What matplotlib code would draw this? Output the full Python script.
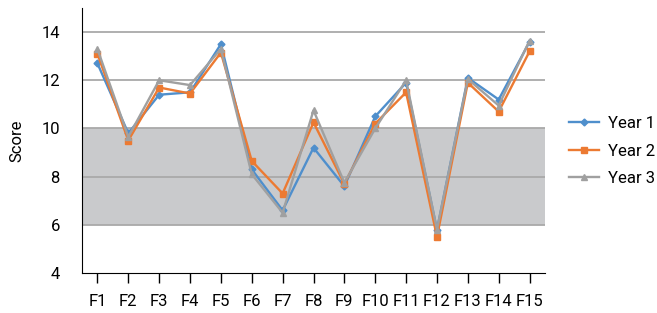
import numpy as np
import matplotlib as mpl
mpl.use('Agg')
import matplotlib.pyplot as plt

# data
features = ['F1', 'F2', 'F3', 'F4', 'F5', 'F6', 'F7', 'F8', 'F9', 'F10',
            'F11', 'F12', 'F13', 'F14', 'F15']
year1 = [12.7, 9.8, 11.4, 11.5, 13.5, 8.3, 6.6, 9.2, 7.6, 10.5,
         11.9, 5.8, 12.1, 11.2, 13.6]
year2 = [13.1, 9.5, 11.7, 11.45, 13.15, 8.65, 7.3, 10.25, 7.7, 10.2,
         11.5, 5.5, 11.9, 10.7, 13.2]
year3 = [13.3, 9.65, 12.0, 11.8, 13.3, 8.1, 6.5, 10.75, 7.75, 10.0,
         12.0, 5.8, 12.05, 10.95, 13.65]
band = (6, 10)
yticks = [4, 6, 8, 10, 12, 14]

plt.rcParams['font.family'] = ['Roboto', 'DejaVu Sans']

fig = plt.figure(figsize=(6.57, 3.13), dpi=100)
ax = fig.add_axes([82/657, 40/313, 463/657, 265/313])

x = np.arange(len(features))
ax.axhspan(band[0], band[1], color='#c9cacc', zorder=0, lw=0)
for yv in yticks[1:]:
    ax.axhline(yv, color='#a9a9a9', lw=1.3, zorder=1)

ax.plot(x, year1, color='#4f8fcc', lw=1.7, marker='D', ms=3.5, label='Year 1', zorder=3)
ax.plot(x, year2, color='#ec7a32', lw=1.7, marker='s', ms=5, label='Year 2', zorder=4)
ax.plot(x, year3, color='#a0a0a0', lw=1.7, marker='^', ms=5, label='Year 3', zorder=5)

ax.set_xlim(-0.5, len(features) - 0.5)
ax.set_ylim(4, 15)
ax.set_xticks(x)
ax.set_xticklabels(features, fontsize=12)
ax.set_yticks(yticks)
ax.set_yticklabels([str(v) for v in yticks], fontsize=12)
ax.tick_params(axis='y', length=0, pad=16)
ax.tick_params(axis='x', length=7, width=1, direction='out', pad=8)
ax.spines['top'].set_visible(False)
ax.spines['right'].set_visible(False)
ax.spines['left'].set_color('black')
ax.spines['bottom'].set_color('black')
ax.set_ylabel('Score', fontsize=12, labelpad=12)

ax.legend(loc='center left', bbox_to_anchor=(1.02, 0.46), frameon=False,
          fontsize=12, handlelength=1.8, labelspacing=0.75, handletextpad=0.5)

fig.savefig('out.png', dpi=100)
